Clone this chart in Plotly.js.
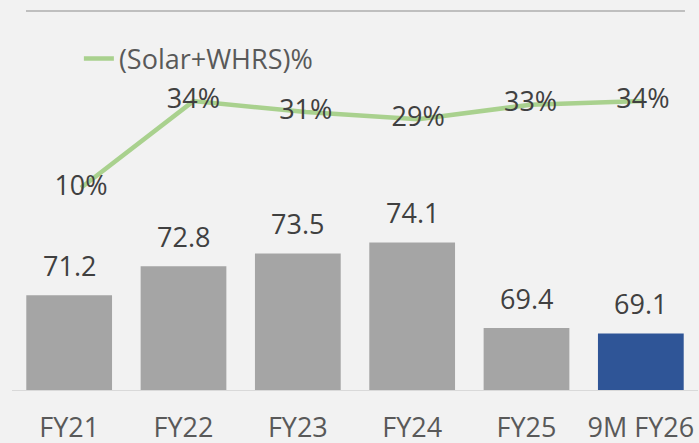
<!DOCTYPE html>
<html>
<head>
<meta charset="utf-8">
<script src="https://cdn.plot.ly/plotly-3.0.1.min.js"></script>
<style>
html,body{margin:0;padding:0;background:#F2F2F2;}
#chart{width:699px;height:443px;}
</style>
</head>
<body>
<div id="chart"></div>
<script>
const categories = ["FY21", "FY22", "FY23", "FY24", "FY25", "9M FY26"];
const barValues = [71.2, 72.8, 73.5, 74.1, 69.4, 69.1];
const sharePct = [10, 34, 31, 29, 33, 34];
const seriesName = "(Solar+WHRS)%";

const FONT = "Open Sans, Lato, sans-serif";
const barColors = categories.map((c, i) => i === categories.length - 1 ? "#2F5597" : "#A5A5A5");

const bars = {
  type: "bar",
  x: categories,
  y: barValues,
  marker: {color: barColors},
  showlegend: false,
  hoverinfo: "x+y",
  xaxis: "x",
  yaxis: "y"
};

const line = {
  type: "scatter",
  mode: "lines+text",
  name: seriesName,
  x: categories,
  y: sharePct,
  text: sharePct.map(v => v + "%"),
  textposition: "middle center",
  textfont: {family: FONT, size: 27, color: "#404040"},
  line: {color: "#A9D18E", width: 4.5},
  xaxis: "x2",
  yaxis: "y2"
};

const annotations = categories.map((c, i) => ({
  x: c, y: barValues[i], xref: "x", yref: "y",
  text: barValues[i].toFixed(1),
  showarrow: false, yanchor: "middle", yshift: 30,
  font: {family: FONT, size: 27, color: "#404040"}
}));

const layout = {
  width: 699, height: 443,
  margin: {l: 12, r: 1, t: 13, b: 53},
  paper_bgcolor: "#F2F2F2",
  plot_bgcolor: "#F2F2F2",
  font: {family: FONT, color: "#595959"},
  bargap: 0.25,
  xaxis: {
    type: "category",
    showline: true, linecolor: "#D9D9D9", linewidth: 1,
    showgrid: false, zeroline: false, ticks: "",
    tickfont: {family: FONT, size: 27, color: "#595959"},
    ticklabelstandoff: 14,
    fixedrange: true
  },
  xaxis2: {
    type: "category", overlaying: "x", visible: false,
    range: [-0.614, 5.49]
  },
  yaxis: {
    range: [66, 86.71], visible: false, showgrid: false, zeroline: false
  },
  yaxis2: {
    range: [-46, 58.4], overlaying: "y", visible: false, showgrid: false, zeroline: false
  },
  showlegend: true,
  legend: {
    x: 0.0975, xanchor: "left", y: 0.878, yanchor: "middle",
    bgcolor: "rgba(0,0,0,0)",
    font: {family: FONT, size: 27, color: "#595959"}
  },
  shapes: [{
    type: "line", xref: "paper", yref: "paper",
    x0: 0.0204, x1: 0.981, y0: 1.0053, y1: 1.0053,
    line: {color: "#BFBFBF", width: 2}
  }],
  annotations: annotations
};

Plotly.newPlot("chart", [bars, line], layout, {displayModeBar: false, staticPlot: true});
</script>
</body>
</html>
